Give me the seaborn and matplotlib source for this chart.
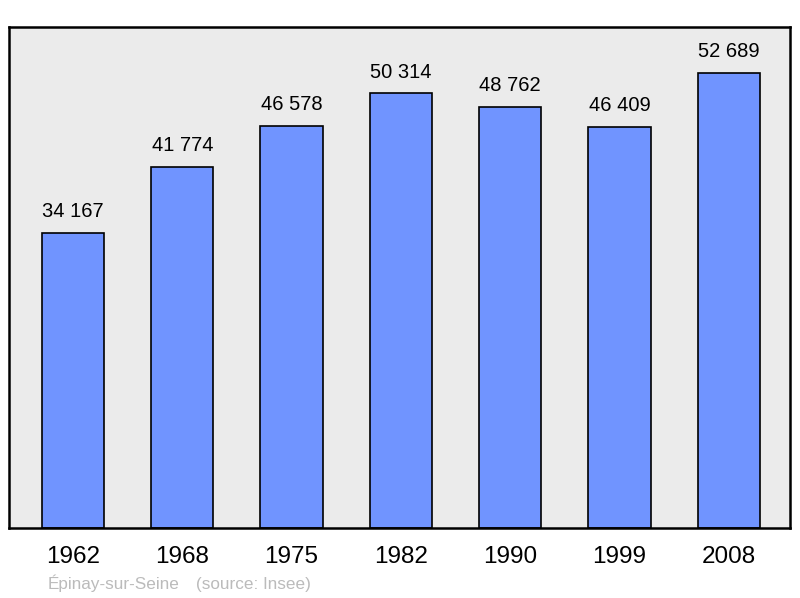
import matplotlib.pyplot as plt
import pandas as pd
import seaborn as sns

years = ["1962", "1968", "1975", "1982", "1990", "1999", "2008"]
population = [34167, 41774, 46578, 50314, 48762, 46409, 52689]
town = "Épinay-sur-Seine"
source = "(source: Insee)"

df = pd.DataFrame({"year": years, "population": population})

plt.rcParams["font.family"] = ["Liberation Sans", "DejaVu Sans"]

fig = plt.figure(figsize=(8, 5.98), dpi=100)
ax = fig.add_axes([0.01125, 0.117, 0.97625, 0.838])
ax.set_facecolor("#ebebeb")

sns.barplot(
    data=df,
    x="year",
    y="population",
    color="#7094ff",
    saturation=1,
    width=0.57,
    edgecolor="black",
    linewidth=1.2,
    ax=ax,
)

labels = ["{:,}".format(v).replace(",", " ") for v in population]
ax.bar_label(ax.containers[0], labels=labels, padding=8.5, fontsize=14.5)

ax.set_xlim(-0.585, 6.56)
ax.set_ylim(0, 58000)
ax.set_yticks([])
ax.set_xlabel("")
ax.set_ylabel("")
ax.tick_params(axis="x", length=0, pad=13, labelsize=17.5)
for s in ax.spines.values():
    s.set_linewidth(1.8)
    s.set_color("black")

fig.text(0.06, 0.015, town, fontsize=12.3, color="#bbbbbb", va="baseline")
fig.text(0.245, 0.015, source, fontsize=12.3, color="#bbbbbb", va="baseline")

fig.savefig("out.png", dpi=100)
